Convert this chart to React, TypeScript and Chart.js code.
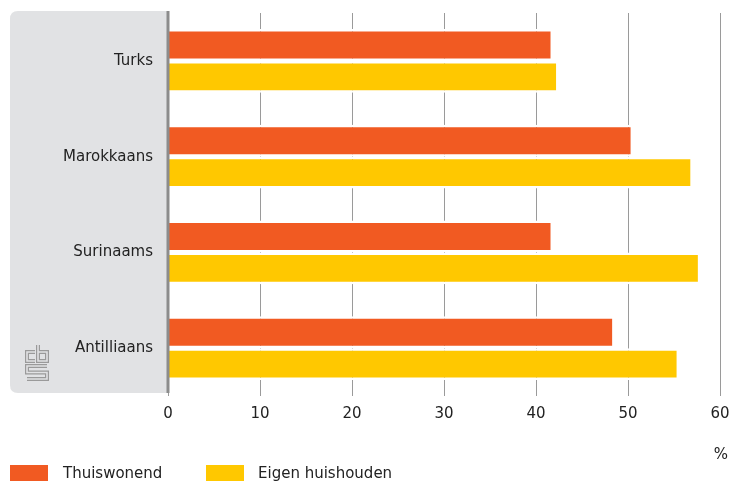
import React, { useEffect, useRef } from "react";
import { Chart, registerables } from "chart.js";

Chart.register(...registerables);

const categories = ["Turks", "Marokkaans", "Surinaams", "Antilliaans"];
const thuiswonend = [41.6, 50.3, 41.6, 48.3];
const eigenHuishouden = [42.2, 56.8, 57.6, 55.3];
const seriesNames = ["Thuiswonend", "Eigen huishouden"];
const xTicks = [0, 10, 20, 30, 40, 50, 60];
const unitLabel = "%";

const ORANGE = "#f15a22";
const YELLOW = "#ffc800";
const PANEL = "#e1e2e4";
const FONT = "DejaVu Sans";

function zeroPad(s: any) {
  s.paddingTop = 0;
  s.paddingBottom = 0;
  s.paddingLeft = 0;
  s.paddingRight = 0;
}

export default function App() {
  const ref = useRef<HTMLCanvasElement | null>(null);

  useEffect(() => {
    if (!ref.current) return;

    const decor = {
      id: "decor",
      beforeDraw(chart: any) {
        const ctx = chart.ctx;
        const left = chart.chartArea.left;
        ctx.save();
        const x0 = 10, y0 = 11, x1 = left, y1 = 393, r = 8;
        ctx.fillStyle = PANEL;
        ctx.beginPath();
        ctx.moveTo(x1, y0);
        ctx.lineTo(x0 + r, y0);
        ctx.quadraticCurveTo(x0, y0, x0, y0 + r);
        ctx.lineTo(x0, y1 - r);
        ctx.quadraticCurveTo(x0, y1, x0 + r, y1);
        ctx.lineTo(x1, y1);
        ctx.closePath();
        ctx.fill();
        const paths: number[][][] = [
          [[35, 352], [27, 352], [27, 361], [35, 361]],
          [[38, 345], [38, 361], [47, 361], [47, 352], [38, 352]],
          [[47, 366], [27, 366], [27, 372.5], [47, 372.5], [47, 379], [27, 379]],
        ];
        ctx.lineJoin = "miter";
        for (const p of paths) {
          ctx.beginPath();
          p.forEach(([x, y], i) => (i ? ctx.lineTo(x, y) : ctx.moveTo(x, y)));
          ctx.strokeStyle = "#9a9a9a";
          ctx.lineWidth = 4;
          ctx.stroke();
          ctx.strokeStyle = PANEL;
          ctx.lineWidth = 1.6;
          ctx.stroke();
        }
        ctx.restore();
      },
      afterDatasetsDraw(chart: any) {
        const ctx = chart.ctx;
        const left = chart.chartArea.left;
        ctx.save();
        ctx.fillStyle = "#8c8c8c";
        ctx.fillRect(left - 1.5, 11, 3, 382);
        ctx.restore();
      },
      afterDraw(chart: any) {
        const ctx = chart.ctx;
        ctx.save();
        ctx.font = `15px "${FONT}"`;
        ctx.fillStyle = "#222";
        ctx.textAlign = "center";
        ctx.textBaseline = "middle";
        ctx.fillText(unitLabel, 721, 455);
        const items = [
          { x: 10, tx: 63, color: ORANGE, label: seriesNames[0] },
          { x: 206, tx: 258, color: YELLOW, label: seriesNames[1] },
        ];
        ctx.textAlign = "left";
        ctx.textBaseline = "alphabetic";
        for (const it of items) {
          ctx.fillStyle = it.color;
          ctx.fillRect(it.x, 465, 38, 18);
          ctx.fillStyle = "#222";
          ctx.fillText(it.label, it.tx, 478);
        }
        ctx.restore();
      },
    };

    const barBorder = { top: 2.5, bottom: 2.5, left: 0, right: 0 };

    const chart = new Chart(ref.current, {
      type: "bar",
      data: {
        labels: categories,
        datasets: [
          {
            label: seriesNames[0],
            data: thuiswonend,
            backgroundColor: ORANGE,
            borderColor: "#ffffff",
            borderWidth: barBorder,
            borderSkipped: false,
          },
          {
            label: seriesNames[1],
            data: eigenHuishouden,
            backgroundColor: YELLOW,
            borderColor: "#ffffff",
            borderWidth: barBorder,
            borderSkipped: false,
          },
        ],
      },
      options: {
        indexAxis: "y",
        responsive: false,
        animation: false,
        events: [],
        layout: { padding: { left: 0, right: 9, top: 13, bottom: 0 } },
        datasets: { bar: { barPercentage: 1, categoryPercentage: 0.668 } },
        plugins: {
          legend: { display: false },
          tooltip: { enabled: false },
          title: { display: false },
        },
        scales: {
          x: {
            type: "linear",
            min: xTicks[0],
            max: xTicks[xTicks.length - 1],
            afterBuildTicks: (s: any) => {
              s.ticks = xTicks.map((v) => ({ value: v }));
            },
            afterFit: (s: any) => {
              s.height = 85;
              zeroPad(s);
            },
            ticks: {
              padding: 9,
              color: "#222",
              font: { family: FONT, size: 15 },
            },
            grid: { color: "#9a9a9a", lineWidth: 1, drawTicks: false },
            border: { display: false },
          },
          y: {
            type: "category",
            afterFit: (s: any) => {
              s.width = 168;
              zeroPad(s);
            },
            ticks: {
              padding: 15,
              color: "#222",
              font: { family: FONT, size: 15 },
            },
            grid: { display: false, drawTicks: false },
            border: { display: false },
          },
        },
      },
      plugins: [decor],
    } as any);

    return () => chart.destroy();
  }, []);

  return (
    <div style={{ position: "fixed", left: 0, top: 0, width: 729, height: 481, background: "#fff" }}>
      <canvas ref={ref} width={729} height={481} style={{ display: "block" }} />
    </div>
  );
}
